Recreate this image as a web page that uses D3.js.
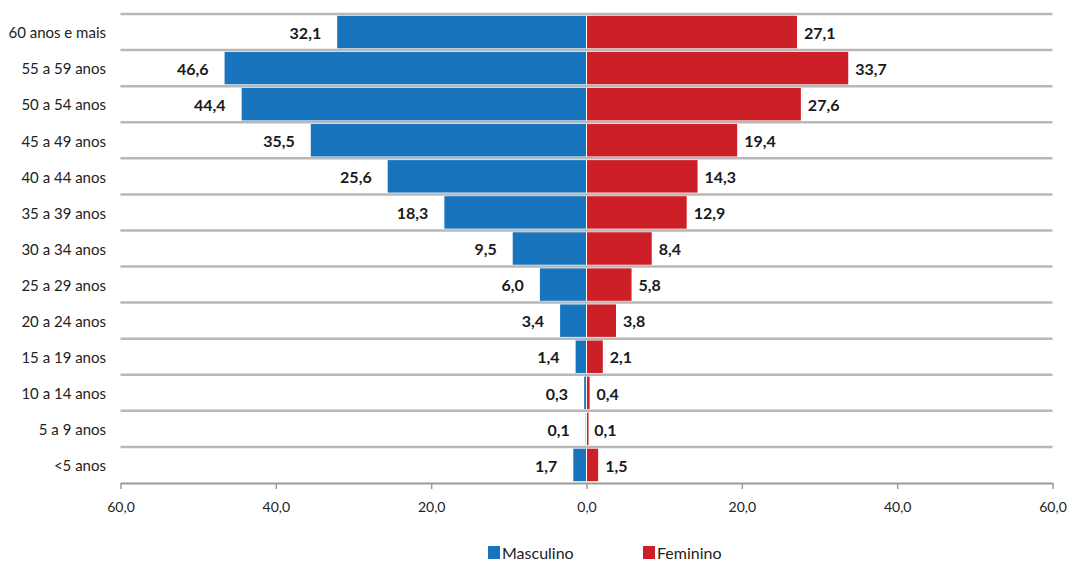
<!DOCTYPE html>
<html><head><meta charset="utf-8">
<script src="https://cdn.jsdelivr.net/npm/d3@7"></script>
<style>body{margin:0;background:#fff}svg{display:block}text{font-family:Lato,"Open Sans",sans-serif}</style>
</head><body>
<script>
const categories = ["60 anos e mais","55 a 59 anos","50 a 54 anos","45 a 49 anos","40 a 44 anos","35 a 39 anos","30 a 34 anos","25 a 29 anos","20 a 24 anos","15 a 19 anos","10 a 14 anos","5 a 9 anos","<5 anos"];
const masculino = [32.1,46.6,44.4,35.5,25.6,18.3,9.5,6.0,3.4,1.4,0.3,0.1,1.7];
const feminino  = [27.1,33.7,27.6,19.4,14.3,12.9,8.4,5.8,3.8,2.1,0.4,0.1,1.5];
const tickValues = [-60,-40,-20,0,20,40,60];
const seriesNames = ["Masculino","Feminino"];
const colors = ["#1874bd","#cc1f27"];

const W=1073,H=561;
const svg=d3.select("body").append("svg").attr("width",W).attr("height",H);
const x=d3.scaleLinear().domain([-60,60]).range([120.5,1052.5]);
const y=d3.scaleBand().domain(categories).range([14,483]).paddingInner(0.1).paddingOuter(0.05);
const fmt=v=>d3.format(".1f")(Math.abs(v)).replace(".",",");

// gridlines (band boundaries)
const step=y.step();
const bounds=d3.range(categories.length).map(i=>14+i*step);
svg.append("g").selectAll("line").data(bounds).join("line")
  .attr("x1",x(-60)).attr("x2",x(60)).attr("y1",d=>d).attr("y2",d=>d)
  .attr("stroke","#b8b8b8").attr("stroke-width",2.5);

// bars
const mg=svg.append("g");
mg.selectAll("rect").data(masculino).join("rect")
  .attr("x",d=>x(-d)).attr("width",d=>x(0)-x(-d)-0.5)
  .attr("y",(d,i)=>y(categories[i])).attr("height",y.bandwidth()).attr("fill",colors[0]);
const fg=svg.append("g");
fg.selectAll("rect").data(feminino).join("rect")
  .attr("x",x(0)+0.5).attr("width",d=>Math.max(x(d)-x(0)-0.5,1.5))
  .attr("y",(d,i)=>y(categories[i])).attr("height",y.bandwidth()).attr("fill",colors[1]);

// value labels
svg.append("g").selectAll("text").data(masculino).join("text")
  .attr("x",d=>x(-d)-16).attr("y",(d,i)=>y(categories[i])+y.bandwidth()/2)
  .attr("dy","0.42em").attr("text-anchor","end")
  .attr("font-size",16).attr("font-weight","bold").attr("fill","#1a1a1a").text(d=>fmt(d));
svg.append("g").selectAll("text").data(feminino).join("text")
  .attr("x",d=>x(d)+7).attr("y",(d,i)=>y(categories[i])+y.bandwidth()/2)
  .attr("dy","0.42em").attr("text-anchor","start")
  .attr("font-size",16).attr("font-weight","bold").attr("fill","#1a1a1a").text(d=>fmt(d));

// category labels
svg.append("g").selectAll("text").data(categories).join("text")
  .attr("x",106).attr("y",d=>y(d)+y.bandwidth()/2).attr("dy","0.42em")
  .attr("text-anchor","end").attr("font-size",15).attr("fill","#222").text(d=>d);

// x axis
const ax=svg.append("g").attr("transform","translate(0,483)")
  .call(d3.axisBottom(x).tickValues(tickValues).tickSize(6).tickSizeOuter(0).tickFormat(fmt));
ax.select(".domain").attr("stroke","#9a9a9a").attr("stroke-width",2);
ax.selectAll(".tick line").attr("stroke","#9a9a9a").attr("stroke-width",1.5);
ax.selectAll(".tick text").attr("font-size",14).attr("fill","#222").attr("y",19).attr("dy","0.71em")
  .style("font-family","Lato,sans-serif");

// legend
const lg=svg.append("g");
const lx=[488,643];
seriesNames.forEach((n,i)=>{
  lg.append("rect").attr("x",lx[i]).attr("y",546).attr("width",12).attr("height",13).attr("fill",colors[i]);
  lg.append("text").attr("x",lx[i]+14).attr("y",553).attr("dy","0.38em").attr("font-size",16).attr("fill","#222").text(n);
});
</script>
</body></html>
